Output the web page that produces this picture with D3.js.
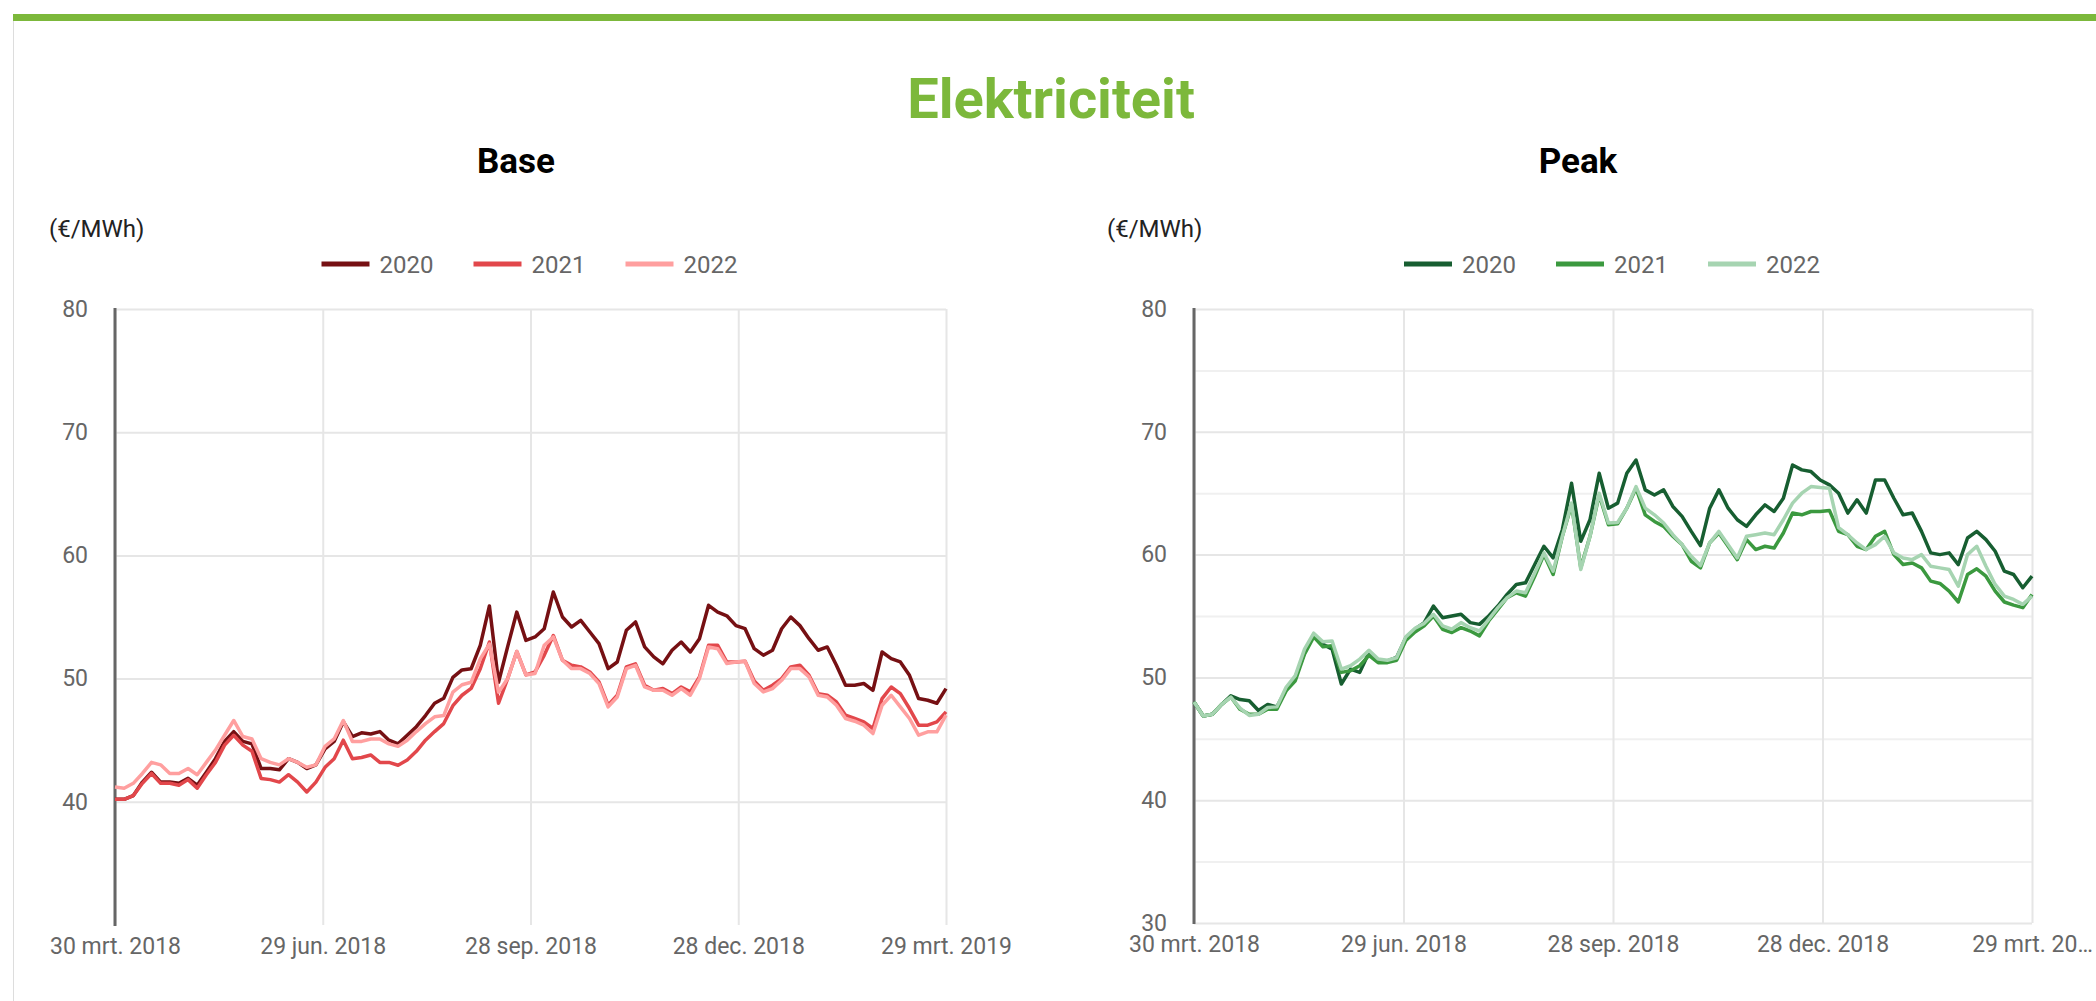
<!DOCTYPE html>
<html>
<head>
<meta charset="utf-8">
<script src="https://cdn.jsdelivr.net/npm/d3@7"></script>
<style>
  body { margin: 0; background: #fff; }
  svg { display: block; font-family: Roboto, "Noto Sans", sans-serif; }
</style>
</head>
<body>
<div id="chart"></div>
<script>
// prices sampled every 4 days, 30 mrt. 2018 .. 29 mrt. 2019
const startDate = new Date(2018, 2, 30);
const sampleDates = d3.range(92).map(i => d3.timeDay.offset(startDate, i * 4));
const years = ["2020", "2021", "2022"];

const tickDates = [new Date(2018, 2, 30), new Date(2018, 5, 29), new Date(2018, 8, 28), new Date(2018, 11, 28), new Date(2019, 2, 29)];
const baseTickLabels = ["30 mrt. 2018", "29 jun. 2018", "28 sep. 2018", "28 dec. 2018", "29 mrt. 2019"];
const peakTickLabels = ["30 mrt. 2018", "29 jun. 2018", "28 sep. 2018", "28 dec. 2018", "29 mrt. 20…"];
const baseYLabels = [40, 50, 60, 70, 80];
const peakYLabels = [30, 40, 50, 60, 70, 80];

const base2020 = [40.2, 40.2, 40.5, 41.6, 42.4, 41.6, 41.6, 41.5, 41.9, 41.35, 42.4, 43.5, 44.9, 45.7, 44.9, 44.7, 42.7, 42.7, 42.6, 43.5, 43.2, 42.7, 43.0, 44.3, 44.9, 46.5, 45.3, 45.6, 45.5, 45.7, 45.0, 44.7, 45.4, 46.1, 47.0, 48.0, 48.4, 50.1, 50.7, 50.8, 52.7, 55.9, 49.7, 52.6, 55.4, 53.1,
  53.38, 54.05, 57.03, 55.0, 54.19, 54.73, 53.78, 52.84, 50.81, 51.35, 53.92, 54.6, 52.57, 51.76, 51.2, 52.3, 52.97, 52.16, 53.24, 55.95, 55.4, 55.1, 54.3, 54.05, 52.43, 51.9, 52.3, 54.05, 55.0, 54.3, 53.24, 52.3, 52.57, 51.08, 49.46, 49.46, 49.6, 49.05, 52.16, 51.62, 51.35, 50.27, 48.38, 48.24, 48.0, 49.19];
const base2021 = [40.2, 40.2, 40.5, 41.5, 42.3, 41.5, 41.5, 41.35, 41.8, 41.1, 42.2, 43.2, 44.6, 45.4, 44.6, 44.1, 41.9, 41.8, 41.6, 42.2, 41.6, 40.8, 41.6, 42.8, 43.5, 45.0, 43.5, 43.6, 43.8, 43.2, 43.2, 42.97, 43.4, 44.1, 45.0, 45.7, 46.35, 47.8, 48.65, 49.2, 50.8, 52.97, 48.0, 50.0, 52.2, 50.3,
  50.54, 51.89, 53.5, 51.49, 51.08, 50.95, 50.54, 49.73, 47.84, 48.65, 50.95, 51.2, 49.46, 49.05, 49.19, 48.78, 49.32, 48.92, 50.14, 52.7, 52.7, 51.35, 51.35, 51.4, 49.8, 49.05, 49.46, 50.0, 50.95, 51.08, 50.27, 48.78, 48.65, 48.11, 47.03, 46.76, 46.49, 45.95, 48.38, 49.32, 48.78, 47.57, 46.22, 46.22, 46.49, 47.3];
const base2022 = [41.2, 41.1, 41.5, 42.3, 43.2, 43.0, 42.3, 42.3, 42.7, 42.2, 43.2, 44.2, 45.4, 46.6, 45.3, 45.1, 43.5, 43.2, 43.0, 43.5, 43.2, 42.8, 43.0, 44.5, 45.1, 46.6, 44.9, 44.9, 45.1, 45.1, 44.7, 44.5, 45.0, 45.7, 46.35, 46.9, 47.0, 48.9, 49.5, 49.7, 51.6, 52.8, 48.9, 50.0, 52.2, 50.3,
  50.41, 52.7, 53.38, 51.49, 50.81, 50.81, 50.41, 49.59, 47.7, 48.51, 50.81, 51.08, 49.32, 49.05, 49.05, 48.65, 49.19, 48.65, 50.0, 52.57, 52.43, 51.22, 51.35, 51.4, 49.6, 48.92, 49.19, 49.86, 50.81, 50.81, 50.14, 48.65, 48.51, 47.84, 46.76, 46.54, 46.22, 45.54, 47.84, 48.65, 47.7, 46.76, 45.41, 45.68, 45.68, 47.03];

const peak2020 = [48.0, 46.86, 47.0, 47.8, 48.5, 48.2, 48.1, 47.3, 47.8, 47.6, 49.0, 50.0, 52.0, 53.5, 52.7, 52.3, 49.46, 50.68, 50.41, 52.03, 51.35, 51.35, 51.62, 53.24, 53.92, 54.46, 55.81, 54.86, 55.0, 55.14, 54.46, 54.32, 55.0, 55.81, 56.76, 57.57, 57.7, 59.19, 60.68, 59.73, 62.03, 65.81, 61.08, 62.84, 66.62, 63.78,
  64.19, 66.62, 67.7, 65.27, 64.86, 65.27, 63.92, 63.11, 61.89, 60.73, 63.78, 65.27, 63.78, 62.84, 62.3, 63.24, 64.05, 63.51, 64.59, 67.3, 66.9, 66.76, 66.08, 65.68, 65.0, 63.38, 64.46, 63.38, 66.08, 66.08, 64.59, 63.24, 63.38, 61.89, 60.14, 60.0, 60.14, 59.19, 61.35, 61.89, 61.22, 60.27, 58.65, 58.38, 57.3, 58.24];
const peak2021 = [48.0, 46.86, 47.0, 47.8, 48.4, 47.4, 47.0, 47.0, 47.4, 47.4, 48.9, 49.73, 51.89, 53.3, 52.5, 52.57, 50.41, 50.54, 50.95, 51.8, 51.2, 51.2, 51.4, 53.0, 53.7, 54.2, 55.0, 53.92, 53.65, 54.05, 53.78, 53.38, 54.59, 55.54, 56.49, 56.89, 56.62, 58.24, 60.0, 58.38, 61.49, 64.05, 58.92, 61.49, 64.86, 62.43,
  62.51, 63.78, 65.41, 63.24, 62.7, 62.3, 61.49, 60.81, 59.46, 58.92, 60.95, 61.76, 60.68, 59.59, 61.22, 60.41, 60.68, 60.54, 61.76, 63.38, 63.24, 63.51, 63.51, 63.6, 61.9, 61.62, 60.68, 60.41, 61.49, 61.89, 60.0, 59.19, 59.32, 58.92, 57.84, 57.65, 57.03, 56.14, 58.38, 58.84, 58.24, 57.03, 56.14, 55.89, 55.68, 56.76];
const peak2022 = [48.0, 46.86, 47.0, 47.8, 48.4, 47.5, 46.9, 47.0, 47.55, 47.6, 49.2, 50.14, 52.3, 53.6, 52.9, 52.97, 50.68, 50.95, 51.49, 52.2, 51.5, 51.4, 51.6, 53.3, 54.0, 54.4, 55.14, 54.19, 53.92, 54.46, 54.05, 53.78, 54.73, 55.68, 56.49, 57.03, 56.89, 58.51, 60.14, 58.65, 61.49, 64.19, 58.78, 61.49, 65.0, 62.57,
  62.62, 63.78, 65.54, 63.78, 63.24, 62.57, 61.62, 60.81, 59.86, 59.11, 60.95, 61.89, 60.81, 59.73, 61.49, 61.62, 61.76, 61.62, 62.84, 64.19, 65.0, 65.54, 65.46, 65.4, 62.2, 61.62, 60.95, 60.41, 60.81, 61.49, 60.14, 59.73, 59.59, 60.0, 59.05, 58.92, 58.78, 57.43, 60.0, 60.68, 59.05, 57.57, 56.62, 56.35, 55.95, 56.62];

const green = "#7cb83b";

const svg = d3.select("#chart").append("svg")
    .attr("width", 2096)
    .attr("height", 1001);

// card frame
svg.append("rect").attr("x", 13).attr("y", 14).attr("width", 2083).attr("height", 7).attr("fill", green);
svg.append("line").attr("x1", 13.5).attr("x2", 13.5).attr("y1", 21).attr("y2", 1001).attr("stroke", "#dddddd");

svg.append("text")
    .attr("x", 1051).attr("y", 118)
    .attr("text-anchor", "middle")
    .style("font-size", "56px").style("font-weight", "bold")
    .attr("fill", green)
    .text("Elektriciteit");

function drawPanel(p) {
    const x = d3.scaleTime().domain([tickDates[0], tickDates[4]]).range([p.left, p.right]);
    const y = d3.scaleLinear().domain([30, 80]).range([p.bottom, p.top]);
    const g = svg.append("g");

    g.append("text")
        .attr("x", p.titleX).attr("y", 173)
        .attr("text-anchor", "middle")
        .style("font-size", "35px").style("font-weight", "bold")
        .attr("fill", "#000")
        .text(p.title);

    g.append("text")
        .attr("x", p.unitX).attr("y", 237)
        .style("font-size", "24px")
        .attr("fill", "#222")
        .text("(€/MWh)");

    // legend
    const cx = (p.left + p.right) / 2;
    const leg = g.append("g").attr("transform", `translate(${cx - 209},264)`);
    years.forEach((yr, i) => {
        const item = leg.append("g").attr("transform", `translate(${i * 152},0)`);
        item.append("line").attr("x1", 0).attr("x2", 48).attr("stroke", p.colors[i]).attr("stroke-width", 5);
        item.append("text").attr("x", 58).attr("y", 8.5)
            .style("font-size", "24px").attr("fill", "#666").text(yr);
    });

    // horizontal grid + y labels
    const yAxis = d3.axisLeft(y)
        .tickValues(p.gridValues)
        .tickSize(-(p.right - p.left))
        .tickPadding(27)
        .tickFormat(d => p.yLabels.includes(d) ? d : "");
    const ya = g.append("g").attr("transform", `translate(${p.left},0)`).call(yAxis)
        .attr("font-family", null).attr("font-size", null);
    ya.select(".domain").remove();
    ya.selectAll("line").attr("stroke", d => d % 10 === 0 ? "#e6e6e6" : "#f0f0f0").attr("stroke-width", 2);
    ya.selectAll("text").attr("fill", "#666").style("font-size", "23px");

    // vertical grid + x labels
    const xAxis = d3.axisBottom(x)
        .tickValues(tickDates)
        .tickSize(-(p.bottom - p.top))
        .tickPadding(13)
        .tickFormat((d, i) => p.tickLabels[i]);
    const xa = g.append("g").attr("transform", `translate(0,${p.bottom})`).call(xAxis)
        .attr("font-family", null).attr("font-size", null);
    xa.select(".domain").remove();
    xa.selectAll("line").attr("stroke", "#e6e6e6").attr("stroke-width", 2);
    xa.selectAll("text").attr("fill", "#666").style("font-size", "23px");

    g.append("line")
        .attr("x1", p.left).attr("x2", p.left)
        .attr("y1", p.top - 1).attr("y2", p.bottom + 1)
        .attr("stroke", "#666").attr("stroke-width", 3);

    const line = d3.line()
        .x((d, i) => x(sampleDates[i]))
        .y(d => y(d));

    g.selectAll("path.series")
        .data(p.series)
        .enter()
        .append("path")
        .attr("class", "series")
        .attr("d", d => line(d))
        .attr("fill", "none")
        .attr("stroke", (d, i) => p.colors[i])
        .attr("stroke-width", 3.5)
        .attr("stroke-linejoin", "round");
}

drawPanel({
    title: "Base", titleX: 516, unitX: 49,
    left: 115, right: 946, top: 309, bottom: 925,
    gridValues: [40, 50, 60, 70, 80],
    yLabels: baseYLabels,
    tickLabels: baseTickLabels,
    colors: ["#761013", "#e2474b", "#ff9f9f"],
    series: [base2020, base2021, base2022]
});

drawPanel({
    title: "Peak", titleX: 1578, unitX: 1107,
    left: 1194, right: 2032, top: 309, bottom: 923,
    gridValues: d3.range(30, 81, 5),
    yLabels: peakYLabels,
    tickLabels: peakTickLabels,
    colors: ["#175e31", "#3b993f", "#a6d4b1"],
    series: [peak2020, peak2021, peak2022]
});
</script>
</body>
</html>
